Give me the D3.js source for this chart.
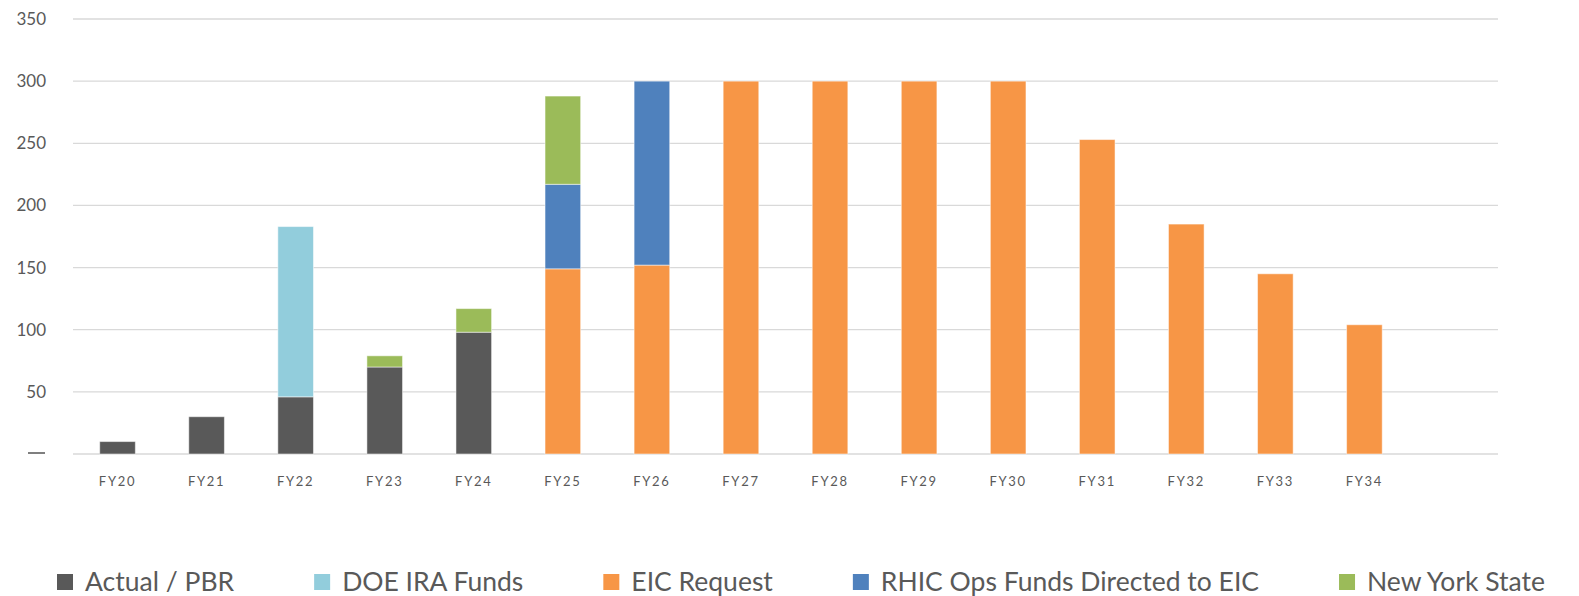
<!DOCTYPE html>
<html>
<head>
<meta charset="utf-8">
<script src="https://cdn.jsdelivr.net/npm/d3@7"></script>
<style>
  body { margin: 0; background: #fff; }
  svg { display: block; }
</style>
</head>
<body>
<svg id="chart" width="1579" height="596"></svg>
<script>
const svg = d3.select("#chart");
const fontFam = "Lato, 'Open Sans', sans-serif";

// fiscal years (last slot is an empty category like in the original sheet)
const categories = ["FY20", "FY21", "FY22", "FY23", "FY24", "FY25", "FY26", "FY27",
                    "FY28", "FY29", "FY30", "FY31", "FY32", "FY33", "FY34", ""];

const actualPBR = [10, 30, 46, 70, 98, 0, 0, 0, 0, 0, 0, 0, 0, 0, 0, 0];
const doeIRA    = [0, 0, 137, 0, 0, 0, 0, 0, 0, 0, 0, 0, 0, 0, 0, 0];
const eicRequest = [0, 0, 0, 0, 0, 149, 152, 300, 300, 300, 300, 253, 185, 145, 104, 0];
const rhicOps   = [0, 0, 0, 0, 0, 68, 148, 0, 0, 0, 0, 0, 0, 0, 0, 0];
const newYork   = [0, 0, 0, 9, 19, 71, 0, 0, 0, 0, 0, 0, 0, 0, 0, 0];

const seriesNames = ["Actual / PBR", "DOE IRA Funds", "EIC Request", "RHIC Ops Funds Directed to EIC", "New York State"];
const seriesColors = ["#595959", "#92CDDC", "#F79646", "#4F81BD", "#9BBB59"];
const yTicks = [0, 50, 100, 150, 200, 250, 300, 350];

// build table rows for d3.stack
const rows = categories.map((c, i) => ({
    cat: c,
    "Actual / PBR": actualPBR[i],
    "DOE IRA Funds": doeIRA[i],
    "EIC Request": eicRequest[i],
    "RHIC Ops Funds Directed to EIC": rhicOps[i],
    "New York State": newYork[i]
}));

const plotLeft = 73, plotRight = 1498, plotTop = 19, plotBottom = 454;

const x = d3.scaleBand()
    .domain(categories)
    .range([plotLeft, plotRight])
    .paddingInner(0.6)
    .paddingOuter(0.3);

const y = d3.scaleLinear()
    .domain([0, 350])
    .range([plotBottom, plotTop]);

// gridlines
svg.append("g")
    .selectAll("line")
    .data(yTicks)
    .join("line")
    .attr("x1", plotLeft)
    .attr("x2", plotRight)
    .attr("y1", d => y(d))
    .attr("y2", d => y(d))
    .attr("stroke", "#D9D9D9")
    .attr("stroke-width", 1.3);

// y axis labels
const yAxis = svg.append("g")
    .attr("transform", `translate(${plotLeft - 27},0)`)
    .call(d3.axisLeft(y).tickValues(yTicks).tickSize(0).tickPadding(0)
        .tickFormat(d => d === 0 ? "" : d));
yAxis.select(".domain").remove();
yAxis.selectAll("text")
    .attr("fill", "#595959")
    .style("font-family", fontFam)
    .style("font-size", "17px");

// the zero label is a dash (accounting format)
svg.append("line")
    .attr("x1", plotLeft - 45)
    .attr("x2", plotLeft - 28)
    .attr("y1", y(0) - 1)
    .attr("y2", y(0) - 1)
    .attr("stroke", "#7f7f7f")
    .attr("stroke-width", 2);

// stacked bars
const stack = d3.stack().keys(seriesNames);
const layers = stack(rows);

svg.append("g")
    .selectAll("g")
    .data(layers)
    .join("g")
    .attr("fill", (d, i) => seriesColors[i])
    .selectAll("rect")
    .data(d => d.filter(p => p[1] - p[0] > 0))
    .join("rect")
    .attr("x", d => x(d.data.cat))
    .attr("width", x.bandwidth())
    .attr("y", d => y(d[1]))
    .attr("height", d => y(d[0]) - y(d[1]))
    .attr("stroke", "#fff")
    .attr("stroke-opacity", 0.5)
    .attr("stroke-width", 1);

// x axis labels
const xAxis = svg.append("g")
    .attr("transform", `translate(0,${plotBottom})`)
    .call(d3.axisBottom(x).tickSize(0).tickPadding(23));
xAxis.select(".domain").remove();
xAxis.selectAll("text")
    .attr("fill", "#595959")
    .style("font-family", fontFam)
    .style("font-size", "13px")
    .style("letter-spacing", "1.7px");

// legend
const legend = svg.append("g").attr("transform", "translate(57,591)");
let lx = 0;
seriesNames.forEach((name, i) => {
    const item = legend.append("g").attr("transform", `translate(${lx},0)`);
    item.append("rect")
        .attr("x", 0)
        .attr("y", -17)
        .attr("width", 16)
        .attr("height", 16)
        .attr("fill", seriesColors[i]);
    const t = item.append("text")
        .attr("x", 28)
        .attr("y", 0)
        .attr("fill", "#595959")
        .style("font-family", fontFam)
        .style("font-size", "26.5px")
        .text(name);
    lx += t.node().getComputedTextLength() + 108;
});
</script>
</body>
</html>
